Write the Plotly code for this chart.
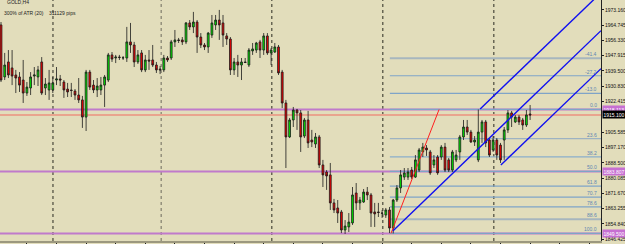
import plotly.graph_objects as go

# ---------------- data (GOLD, H4) ----------------
bar_idx = list(range(144))
opens = [1964.9,1936.1,1944.4,1941.1,1937.2,1936.1,1934.4,1927.2,1930.0,1936.6,
         1936.1,1944.4,1930.0,1928.9,1928.9,1934.4,1935.0,1933.3,1929.4,1928.9,
         1928.3,1926.1,1923.4,1913.9,1938.8,1931.6,1928.9,1928.9,1931.6,1934.4,
         1948.3,1946.6,1947.1,1946.6,1946.6,1955.5,1953.8,1944.4,1949.4,1940.0,
         1945.5,1945.5,1942.7,1940.5,1940.0,1946.6,1946.6,1955.5,1956.6,1956.6,
         1955.5,1966.0,1963.8,1966.5,1958.2,1953.8,1952.7,1959.3,1964.9,1967.6,
         1966.0,1958.8,1957.1,1940.0,1944.4,1942.7,1944.4,1942.7,1950.5,1951.0,
         1955.5,1951.0,1958.8,1949.4,1949.9,1952.7,1938.8,1921.7,1902.9,1912.3,
         1917.8,1916.2,1903.4,1912.3,1901.2,1899.0,1902.9,1887.4,1883.5,1881.9,
         1866.4,1863.6,1861.4,1851.4,1853.1,1855.3,1871.9,1866.4,1866.9,1872.4,
         1870.8,1861.4,1861.4,1860.8,1859.7,1862.5,1852.5,1868.0,1874.7,1880.7,
         1880.7,1884.6,1880.7,1884.6,1894.6,1896.8,1894.6,1887.4,1891.8,1891.8,
         1897.3,1890.2,1884.6,1890.2,1894.6,1902.9,1908.4,1905.6,1900.1,1890.2,
         1905.6,1911.2,1901.2,1895.7,1901.2,1898.4,1901.2,1906.8,1916.2,1911.2,
         1913.9,1912.3,1909.5,1915.6]
highs = [1966.5,1949.4,1951.0,1951.0,1940.0,1938.8,1945.5,1933.3,1938.8,1941.6,
         1942.2,1947.1,1935.5,1940.0,1936.1,1941.6,1937.2,1934.4,1932.8,1932.8,
         1929.4,1935.5,1925.6,1940.0,1940.0,1934.4,1935.5,1936.1,1937.2,1949.4,
         1949.9,1948.3,1948.3,1947.7,1963.8,1966.0,1955.5,1951.0,1951.0,1948.3,
         1951.0,1953.8,1944.4,1942.2,1948.3,1947.7,1956.6,1962.1,1957.7,1958.2,
         1966.5,1967.6,1972.1,1967.6,1960.4,1954.9,1961.0,1970.4,1970.4,1973.2,
         1970.4,1960.4,1958.2,1946.6,1948.3,1946.6,1946.6,1952.1,1954.9,1955.5,
         1956.6,1960.4,1960.4,1952.1,1954.9,1953.8,1940.0,1923.4,1913.4,1919.5,
         1918.4,1917.8,1913.4,1917.3,1906.8,1905.1,1904.0,1890.2,1884.6,1888.5,
         1868.6,1868.0,1862.5,1856.9,1860.8,1875.2,1877.4,1869.7,1874.1,1875.2,
         1871.9,1866.4,1866.4,1862.5,1863.6,1864.1,1868.6,1876.3,1884.6,1885.7,
         1885.7,1886.3,1892.9,1896.8,1899.6,1898.4,1895.7,1892.9,1892.9,1898.4,
         1899.6,1891.3,1895.7,1895.7,1904.0,1912.3,1912.3,1906.8,1903.4,1918.1,
         1912.3,1912.3,1902.3,1903.4,1902.3,1899.6,1908.4,1917.8,1917.3,1915.1,
         1915.1,1913.4,1917.8,1920.6]
lows = [1933.3,1934.4,1935.5,1931.6,1927.2,1927.8,1921.7,1925.6,1926.1,1931.6,
        1931.1,1926.1,1926.1,1923.4,1927.2,1931.6,1931.1,1924.5,1925.0,1925.0,
        1923.4,1921.7,1907.9,1906.2,1928.9,1927.2,1925.0,1926.1,1919.5,1933.3,
        1944.4,1943.8,1945.5,1945.5,1944.4,1949.4,1941.6,1943.3,1938.8,1938.8,
        1940.0,1941.6,1938.3,1937.7,1938.8,1944.4,1945.5,1952.7,1954.9,1953.8,
        1954.3,1962.1,1960.4,1949.4,1952.1,1951.0,1949.4,1957.7,1962.1,1956.6,
        1952.7,1953.8,1937.2,1937.2,1936.1,1934.4,1943.8,1941.6,1948.3,1949.4,
        1946.6,1948.3,1948.3,1942.7,1949.4,1937.2,1918.9,1885.7,1902.3,1908.4,
        1906.8,1894.6,1902.3,1896.8,1897.3,1896.8,1885.7,1875.2,1873.6,1862.5,
        1860.8,1855.3,1849.7,1849.2,1850.3,1854.2,1862.5,1862.5,1866.4,1868.0,
        1853.1,1853.1,1858.6,1858.1,1858.1,1849.7,1849.5,1866.9,1871.9,1879.1,
        1879.1,1879.6,1880.2,1883.5,1891.8,1892.4,1881.9,1885.7,1881.9,1890.2,
        1883.5,1883.5,1883.5,1889.0,1890.2,1901.2,1904.0,1899.6,1897.9,1889.0,
        1899.6,1897.3,1891.8,1894.6,1890.2,1888.5,1890.2,1905.1,1908.4,1910.6,
        1909.5,1906.8,1908.4,1912.3]
closes = [1934.4,1942.7,1937.2,1936.6,1935.5,1931.6,1927.2,1930.5,1936.1,1937.2,
          1940.0,1927.2,1932.2,1932.8,1932.8,1935.0,1934.4,1928.9,1927.8,1928.6,
          1926.1,1923.4,1913.9,1938.8,1930.5,1928.9,1931.1,1931.6,1936.1,1948.3,
          1946.0,1947.1,1946.9,1946.7,1955.5,1953.8,1944.4,1948.3,1940.0,1945.5,
          1944.9,1942.7,1940.0,1940.0,1946.6,1945.5,1955.5,1956.6,1956.3,1955.5,
          1966.0,1963.8,1966.5,1958.2,1953.8,1952.7,1960.4,1966.0,1967.6,1964.9,
          1959.3,1957.1,1940.0,1944.4,1942.7,1944.4,1944.1,1951.0,1951.6,1954.9,
          1951.0,1958.8,1949.4,1951.0,1952.7,1938.3,1921.7,1902.9,1912.3,1917.8,
          1916.2,1902.9,1912.3,1899.6,1900.1,1902.9,1887.4,1881.9,1881.3,1866.4,
          1862.5,1860.8,1851.4,1853.6,1855.8,1870.8,1866.4,1868.0,1872.4,1870.8,
          1860.8,1860.3,1861.1,1860.7,1862.5,1852.5,1868.0,1874.7,1881.9,1883.0,
          1883.5,1880.7,1890.2,1895.7,1897.3,1895.7,1883.0,1890.2,1883.0,1897.3,
          1884.6,1884.6,1894.6,1892.9,1902.9,1908.4,1905.6,1900.1,1901.2,1905.6,
          1911.2,1899.6,1892.9,1901.2,1892.9,1890.2,1906.8,1916.2,1913.9,1913.9,
          1911.2,1909.5,1915.1,1915.1]

ytick_vals = [1846.425, 1854.840, 1863.255, 1871.670, 1880.085, 1888.500, 1897.170,
              1905.585, 1922.415, 1930.830, 1939.500, 1947.915, 1956.330, 1964.745, 1973.160]

# Fibonacci retracement (anchors: bar index, price)
fib_a_idx, fib_a_price = 105.4, 1849.500
fib_b_idx, fib_b_price = 118.4, 1918.113
fib_levels = [-41.4, -27.2, -13.0, 0.0, 23.6, 38.2, 50.0, 61.8, 70.7, 78.6, 88.6, 100.0]
fib_colors = ["#A7B6BE", "#7FA4C8", "#7FA4C8", "#7FA4C8", "#9DB2C2", "#8AAECB",
              "#7FA4C8", "#7FA4C8", "#7FA4C8", "#7FA4C8", "#A7B6BE", "#7FA4C8"]
fib_start_idx = 105.1

# horizontal lines
purple_levels = [1918.113, 1883.807, 1849.500]
bid_price = 1915.100

# parallel channel (start bar, start price) and slope per bar
chan_start_idx = [129.5, 105.9, 135.1]
chan_start_price = [1918.4, 1850.9, 1887.4]
chan_slope = 1.97

# period separators (bar index)
sep_idx = [14.05, 43.3, 73.2, 103.2, 133.2]

x_lo, x_hi = -0.27, 162.16
y_lo, y_hi = 1845.32, 1978.69

BG = "#E2DDBB"
FONT = "Liberation Sans"

fig = go.Figure()

shapes = []
# separators
for k, s in enumerate(sep_idx):
    shapes.append(dict(type="line", xref="x", yref="paper", x0=s, x1=s, y0=0, y1=1,
                       line=dict(color="#8E8B78" if k == 1 else "#2A2A20",
                                 width=1.4 if k == 1 else 1, dash="dot"),
                       layer="below"))
# fib level lines
fib_range = fib_b_price - fib_a_price
for lvl, col in zip(fib_levels, fib_colors):
    p = fib_b_price - lvl / 100.0 * fib_range
    w = 2 if col == "#A7B6BE" else 1.2
    shapes.append(dict(type="line", xref="x", yref="y", x0=fib_start_idx, x1=x_hi,
                       y0=p, y1=p, line=dict(color=col, width=w), layer="below"))
# purple full-width lines
for p in purple_levels:
    shapes.append(dict(type="line", xref="paper", yref="y", x0=0, x1=1, y0=p, y1=p,
                       line=dict(color="#C07ACB", width=2), layer="below"))
# bid line
shapes.append(dict(type="line", xref="paper", yref="y", x0=0, x1=1, y0=bid_price, y1=bid_price,
                   line=dict(color="#E9A48E", width=2), layer="below"))

# fib trend line (red)
fig.add_trace(go.Scatter(x=[fib_a_idx, fib_b_idx], y=[fib_a_price, fib_b_price], mode="lines",
                         line=dict(color="#FF2020", width=1), hoverinfo="skip", showlegend=False))
# channel lines
for xs, ps in zip(chan_start_idx, chan_start_price):
    pe = ps + chan_slope * (x_hi - xs)
    fig.add_trace(go.Scatter(x=[xs, x_hi], y=[ps, pe], mode="lines",
                             line=dict(color="#1010F0", width=1.4), hoverinfo="skip",
                             showlegend=False))

fig.add_trace(go.Candlestick(
    x=bar_idx, open=opens, high=highs, low=lows, close=closes,
    increasing=dict(fillcolor="#00E600", line=dict(color="#1A1A1A", width=0.8)),
    decreasing=dict(fillcolor="#F00000", line=dict(color="#1A1A1A", width=0.8)),
    whiskerwidth=0, showlegend=False, hoverinfo="skip"))

ann = []
# fib labels
for lvl in fib_levels:
    p = fib_b_price - lvl / 100.0 * fib_range
    ann.append(dict(xref="paper", yref="y", x=0.996, y=p, xanchor="right", yanchor="bottom",
                    text=f"{lvl:.1f}", showarrow=False, yshift=-1,
                    font=dict(family=FONT, size=5, color="#5E86B2")))
# right-axis price boxes
for p in purple_levels:
    ann.append(dict(xref="paper", yref="y", x=1, y=p, xanchor="left", yanchor="middle",
                    text=f"{p:.3f}", showarrow=False, xshift=1, bgcolor="#C66FD2",
                    borderpad=0.5, font=dict(family=FONT, size=5, color="white")))
ann.append(dict(xref="paper", yref="y", x=1, y=bid_price, xanchor="left", yanchor="middle",
                text=f"{bid_price:.3f}", showarrow=False, xshift=1, bgcolor="black",
                borderpad=0.5, font=dict(family=FONT, size=5, color="white")))
# header texts
ann.append(dict(xref="paper", yref="paper", x=0, y=1, xanchor="left", yanchor="middle",
                xshift=5, yshift=-2, text="GOLD,H4", showarrow=False,
                font=dict(family=FONT, size=5, color="#222222")))
ann.append(dict(xref="paper", yref="paper", x=0, y=1, xanchor="left", yanchor="middle",
                xshift=2, yshift=-13, text="300% of ATR (20)&nbsp;&nbsp;&nbsp;&nbsp;311129 pips",
                showarrow=False, font=dict(family=FONT, size=5, color="#222222")))

fig.update_layout(
    width=625, height=244,
    margin=dict(l=0, r=24, t=0, b=3, autoexpand=False),
    paper_bgcolor=BG, plot_bgcolor=BG,
    shapes=shapes, annotations=ann,
    xaxis=dict(range=[x_lo, x_hi], rangeslider=dict(visible=False), showgrid=False,
               zeroline=False, showline=True, linecolor="#9C987F", linewidth=2,
               tickvals=list(range(7, 163, 8)), ticks="outside", ticklen=3,
               tickcolor="#222222", showticklabels=False, fixedrange=True),
    yaxis=dict(range=[y_lo, y_hi], side="right", showgrid=False, zeroline=False,
               showline=True, linecolor="#222222", linewidth=1,
               tickvals=ytick_vals, ticktext=[f"{v:.3f}" for v in ytick_vals],
               ticks="outside", ticklen=2, tickcolor="#222222",
               tickfont=dict(family=FONT, size=5, color="#111111"), automargin=False),
    showlegend=False,
)

fig.write_html("out.html")
